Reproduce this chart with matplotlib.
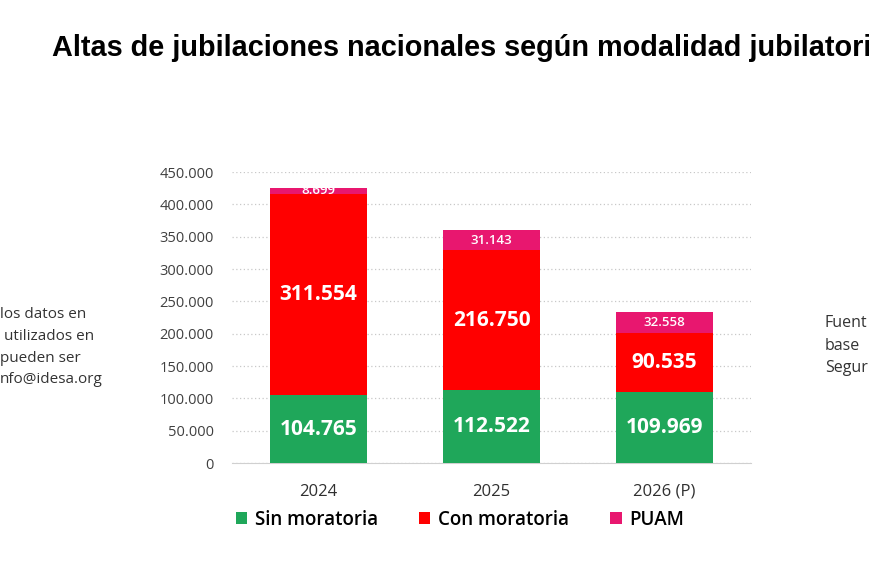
import matplotlib
matplotlib.use("Agg")
import matplotlib.pyplot as plt
import numpy as np
from matplotlib.ticker import FuncFormatter

years = ["2024", "2025", "2026 (P)"]
sin_moratoria = [104765, 112522, 109969]
con_moratoria = [311554, 216750, 90535]
puam = [8699, 31143, 32558]
series_names = ["Sin moratoria", "Con moratoria", "PUAM"]
series_colors = ["#1fa75a", "#ff0000", "#e8176f"]

plt.rcParams["font.family"] = ["Open Sans", "DejaVu Sans"]


def fmt_es(v):
    return f"{int(round(v)):,}".replace(",", ".")


fig = plt.figure(figsize=(8.7, 5.8), dpi=100)
ax = fig.add_axes([0.2667, 0.2017, 0.5966, 0.5017])

x = np.arange(len(years))
width = 0.56
bottom = np.zeros(len(years))
handles = []
for values, name, color in zip([sin_moratoria, con_moratoria, puam], series_names, series_colors):
    vals = np.array(values, dtype=float)
    bars = ax.bar(x, vals, width, bottom=bottom, color=color, label=name, zorder=3)
    handles.append(bars)
    small = name == "PUAM"
    for xi, b, v in zip(x, bottom, vals):
        ax.text(xi, b + v / 2, fmt_es(v), ha="center", va="center", color="white",
                fontsize=9.5 if small else 15, fontweight="semibold" if small else "bold",
                zorder=4)
    bottom += vals

ax.set_xlim(-0.5, 2.5)
ax.set_ylim(0, 450000)
ax.set_yticks(np.arange(0, 450001, 50000))
ax.yaxis.set_major_formatter(FuncFormatter(lambda v, p: fmt_es(v)))
ax.set_xticks(x)
ax.set_xticklabels(years)
ax.tick_params(axis="y", length=0, labelsize=10.5, colors="#404040", pad=13)
ax.tick_params(axis="x", length=0, labelsize=12, colors="#303030", pad=15)
ax.grid(axis="y", linestyle=(0, (1, 2)), color="#c8c8c8", linewidth=0.9, zorder=0)
for s in ["top", "right", "left"]:
    ax.spines[s].set_visible(False)
ax.spines["bottom"].set_color("#d0d0d0")

fig.legend(handles, series_names, loc="center", bbox_to_anchor=(460 / 870, 1 - 520 / 580),
           ncol=3, frameon=False, handlelength=0.6, handleheight=0.6, handletextpad=0.4,
           columnspacing=2.2, prop={"size": 13.5, "weight": "semibold"})

fig.text(52 / 870, 1 - 48 / 580, "Altas de jubilaciones nacionales según modalidad jubilatori",
         fontsize=20.8, fontweight="bold", family=["Liberation Sans", "DejaVu Sans"],
         ha="left", va="center")

left_lines = ["los datos en", " utilizados en", "pueden ser", "nfo@idesa.org"]
for i, line in enumerate(left_lines):
    fig.text(0.0, 1 - (315 + 21.5 * i) / 580, line, fontsize=11, color="#333333",
             ha="left", va="center")

right_lines = ["Fuent", "base", "Segur"]
for i, line in enumerate(right_lines):
    fig.text(825 / 870, 1 - (323 + 22.5 * i) / 580, line, fontsize=11.5, color="#333333",
             ha="left", va="center")

fig.savefig("out.png", dpi=100)
